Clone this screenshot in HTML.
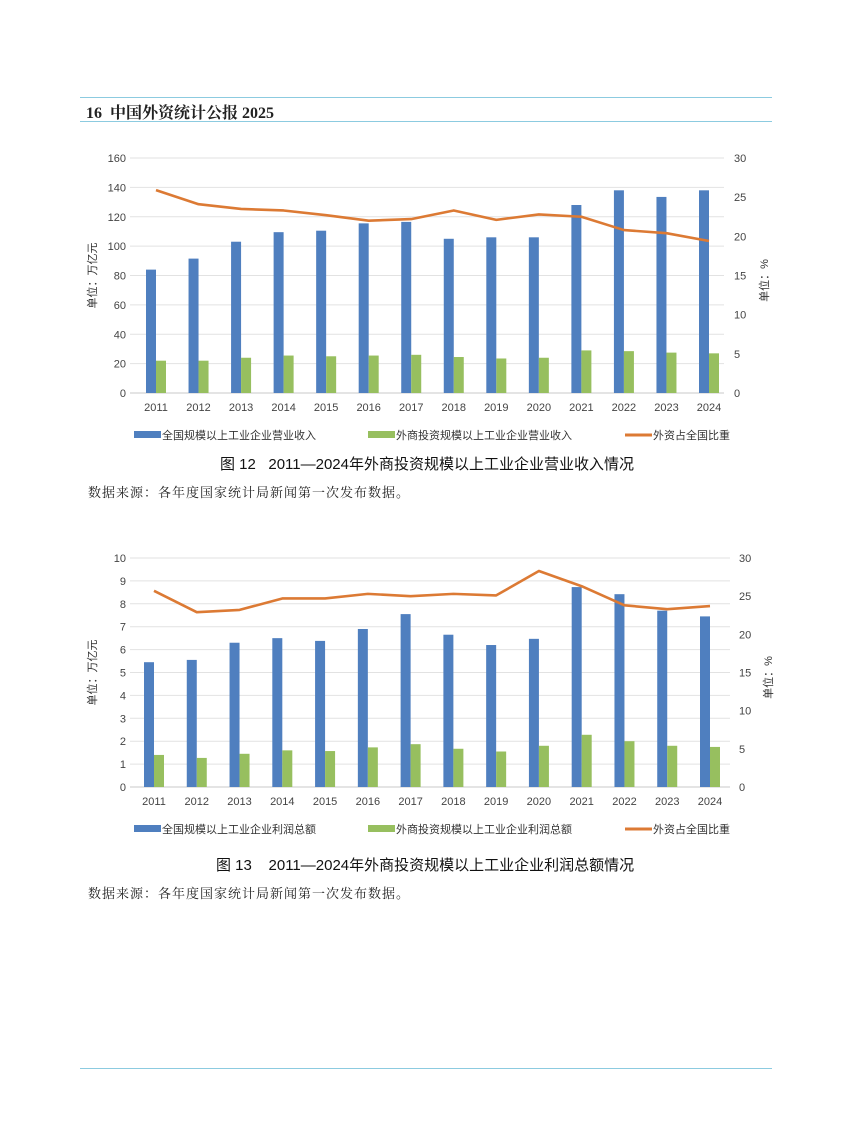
<!DOCTYPE html>
<html><head><meta charset="utf-8">
<style>
body{margin:0;width:851px;height:1146px;background:#fff;position:relative;overflow:hidden;font-family:"Liberation Sans","Noto Sans CJK SC",sans-serif;}
.hl{position:absolute;left:80px;width:692px;height:1px;background:#8ccbe0;}
.t{position:absolute;white-space:nowrap;}
svg text{font-family:"Liberation Sans","Noto Sans CJK SC",sans-serif;}
</style></head><body>
<div class="hl" style="top:97px"></div>
<div class="t" style="left:86px;top:100px;font-family:'Liberation Serif','Noto Serif CJK SC',serif;font-size:16px;font-weight:bold;color:#222">16&nbsp;&nbsp;中国外资统计公报 2025</div>
<div class="hl" style="top:121px"></div>

<svg id="c1" style="position:absolute;left:0;top:140px" width="851" height="310"></svg>
<div class="t" style="left:220px;top:453px;font-size:15px;color:#111">图 12&nbsp;&nbsp;&nbsp;2011—2024年外商投资规模以上工业企业营业收入情况</div>
<div class="t" style="left:88px;top:482px;font-family:'Liberation Serif','Noto Serif CJK SC',serif;font-size:13px;color:#222;letter-spacing:1px">数据来源：各年度国家统计局新闻第一次发布数据。</div>

<svg id="c2" style="position:absolute;left:0;top:540px" width="851" height="305"></svg>
<div class="t" style="left:216px;top:854px;font-size:15px;color:#111">图 13&nbsp;&nbsp;&nbsp;&nbsp;2011—2024年外商投资规模以上工业企业利润总额情况</div>
<div class="t" style="left:88px;top:883px;font-family:'Liberation Serif','Noto Serif CJK SC',serif;font-size:13px;color:#222;letter-spacing:1px">数据来源：各年度国家统计局新闻第一次发布数据。</div>

<div class="hl" style="top:1068px"></div>

<script>
const years = ["2011","2012","2013","2014","2015","2016","2017","2018","2019","2020","2021","2022","2023","2024"];
const revTotal = [84,91.5,103,109.5,110.5,115.5,116.5,105,106,106,128,138,133.5,138];
const revForeign = [22,22,24,25.5,25,25.5,26,24.5,23.5,24,29,28.5,27.5,27];
const revShare = [25.9,24.1,23.5,23.3,22.7,22.0,22.2,23.3,22.1,22.8,22.5,20.8,20.4,19.4];
const revLeftTicks = [0,20,40,60,80,100,120,140,160];
const revRightTicks = [0,5,10,15,20,25,30];
const profTotal = [5.45,5.55,6.3,6.5,6.38,6.9,7.55,6.65,6.2,6.47,8.73,8.42,7.7,7.45];
const profForeign = [1.4,1.27,1.45,1.6,1.57,1.73,1.87,1.67,1.55,1.8,2.28,2.0,1.8,1.75];
const profShare = [25.7,22.9,23.2,24.7,24.7,25.3,25.0,25.3,25.1,28.3,26.3,23.8,23.3,23.7];
const profLeftTicks = [0,1,2,3,4,5,6,7,8,9,10];
const profRightTicks = [0,5,10,15,20,25,30];
const NS='http://www.w3.org/2000/svg';
function mk(svg,tag,attrs,txt){const e=document.createElementNS(NS,tag);for(const k in attrs)e.setAttribute(k,attrs[k]);if(txt!=null)e.textContent=txt;svg.appendChild(e);return e;}
function draw(id,o){
  const svg=document.getElementById(id);
  const lmax=o.lt[o.lt.length-1], rmax=o.rt[o.rt.length-1];
  const yL=v=>o.y0-(o.y0-o.y1)*v/lmax;
  const yR=v=>o.y0-(o.y0-o.y1)*v/rmax;
  const step=(o.xl-o.xf)/(years.length-1);
  const xC=i=>o.xf+i*step;
  o.lt.forEach(t=>{
    const g=mk(svg,'line',{x1:o.gx0,x2:o.gx1,y1:yL(t),y2:yL(t),stroke:t===0?'#c8c8c8':'#e2e2e2','stroke-width':1});
    
    
    const l=mk(svg,'text',{x:o.gx0-4,y:yL(t)+4,'text-anchor':'end','font-size':11,fill:'#444'},t);
    
    
  });
  o.rt.forEach(t=>{
    const l=mk(svg,'text',{x:o.rx,y:yR(t)+4,'text-anchor':'start','font-size':11,fill:'#444'},t);
    
    
  });
  years.forEach((yr,i)=>{
    const b=mk(svg,'rect',{x:xC(i)-10,y:yL(o.tot[i]),width:10,height:o.y0-yL(o.tot[i]),fill:'#4f7fbf'});
    
    
    const g=mk(svg,'rect',{x:xC(i),y:yL(o.fr[i]),width:10,height:o.y0-yL(o.fr[i]),fill:'#97bf5f'});
    
    
    const l=mk(svg,'text',{x:xC(i),y:o.y0+18,'text-anchor':'middle','font-size':11,fill:'#444'},yr);
    
    
  });
  const p=mk(svg,'polyline',{points:o.sh.map((v,i)=>xC(i)+','+yR(v)).join(' '),fill:'none',stroke:'#dc7a34','stroke-width':2.6,'stroke-linejoin':'round'});
  
  
  const yt=mk(svg,'text',{transform:`translate(${o.ylx},${(o.y0+o.y1)/2}) rotate(-90)`,'text-anchor':'middle','font-size':11,fill:'#333'},'单位：万亿元');
  
  
  const yr2=mk(svg,'text',{transform:`translate(${o.yrx},${(o.y0+o.y1)/2+5}) rotate(-90)`,'text-anchor':'middle','font-size':11,fill:'#333'},'单位：%');
  
  
  const ly=o.legY;
  const items=[[134,'#4f7fbf','rect',o.n1],[368,'#97bf5f','rect',o.n2],[625,'#dc7a34','line','外资占全国比重']];
  items.forEach((it,k)=>{
    if(it[2]==='rect'){const r=mk(svg,'rect',{x:it[0],y:ly-4,width:27,height:7,fill:it[1]});}
    else{const r=mk(svg,'line',{x1:it[0],x2:it[0]+27,y1:ly,y2:ly,stroke:it[1],'stroke-width':3});}
    const t=mk(svg,'text',{x:it[0]+28,y:ly+4,'font-size':11,fill:'#333'},it[3]);
    
    
  });
}
draw('c1',{lt:revLeftTicks,rt:revRightTicks,tot:revTotal,fr:revForeign,sh:revShare,y0:253,y1:18,gx0:130,gx1:724,xf:156,xl:709,rx:734,ylx:96,yrx:768,legY:295,n1:'全国规模以上工业企业营业收入',n2:'外商投资规模以上工业企业营业收入'});
draw('c2',{lt:profLeftTicks,rt:profRightTicks,tot:profTotal,fr:profForeign,sh:profShare,y0:247,y1:18,gx0:130,gx1:730,xf:154,xl:710,rx:739,ylx:96,yrx:772,legY:289,n1:'全国规模以上工业企业利润总额',n2:'外商投资规模以上工业企业利润总额'});
</script>
</body></html>
